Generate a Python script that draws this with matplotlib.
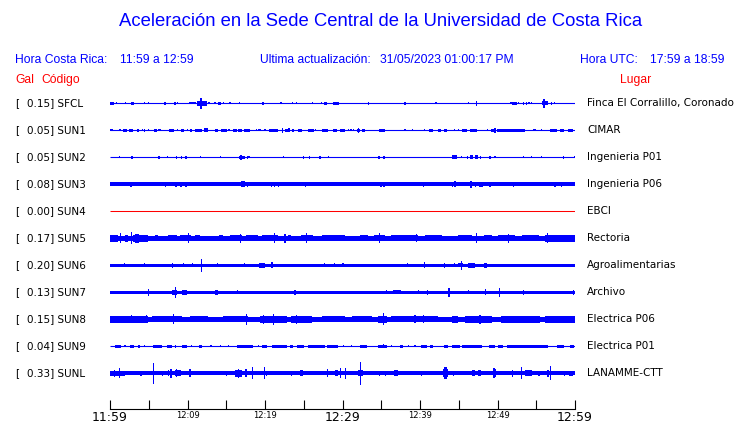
import matplotlib
matplotlib.use('Agg')
import matplotlib.pyplot as plt

# ---------------- data ----------------
codes = ['SFCL', 'SUN1', 'SUN2', 'SUN3', 'SUN4', 'SUN5', 'SUN6', 'SUN7', 'SUN8', 'SUN9', 'SUNL']
gal = ['0.15', '0.05', '0.05', '0.08', '0.00', '0.17', '0.20', '0.13', '0.15', '0.04', '0.33']
places = ['Finca El Corralillo, Coronado', 'CIMAR', 'Ingenieria P01', 'Ingenieria P06', 'EBCI',
          'Rectoria', 'Agroalimentarias', 'Archivo', 'Electrica P06', 'Electrica P01', 'LANAMME-CTT']

# background (noise) half-amplitude of each trace
base_amp = [0.5, 0.5, 0.5, 2.0, 0.5, 2.7, 1.6, 1.6, 2.7, 0.5, 1.9]

# bursts: (start minute, end minute, half-amplitude)
ev_sfcl = [(0.0, 0.56, 1.5), (0.86, 0.86, 1.2), (2.02, 2.02, 1), (2.71, 3.14, 1.5), (4.43, 4.43, 0.8),
           (4.95, 4.95, 1), (7.1, 7.1, 1.5), (8.26, 8.52, 1.5), (8.73, 8.73, 1), (10.2, 11.05, 1.2),
           (11.2, 12.5, 2.5), (11.55, 11.9, 5.3), (12.77, 12.77, 1), (13.55, 13.55, 1), (13.9, 14.3, 1.5),
           (14.6, 14.6, 1), (15.48, 15.48, 1), (16.7, 16.7, 0.8), (19.65, 19.9, 1.5), (22.06, 22.06, 0.8),
           (23.5, 23.5, 0.8), (24.08, 24.08, 1), (26.1, 26.1, 0.8), (27.3, 27.3, 1), (27.65, 27.96, 1.5),
           (28.8, 29.6, 1.5), (33.3, 33.3, 1.5), (38.06, 38.06, 1.5), (42.06, 42.06, 0.8), (46.2, 46.2, 0.8),
           (47.3, 47.3, 2.7), (51.74, 51.74, 1), (51.9, 52.47, 1.5), (52.69, 52.69, 1), (53.3, 53.3, 1.5),
           (53.76, 53.76, 1.5), (54.06, 54.06, 1), (54.4, 54.4, 1), (55.7, 56.56, 2), (55.9, 56.15, 4.7),
           (57.0, 57.0, 1.5), (57.4, 57.4, 1)]
ev_sun1 = [(0.0, 0.43, 1), (1.16, 1.42, 1.2), (1.72, 2.19, 1.5), (2.45, 2.97, 1.5), (3.44, 3.74, 1.5),
           (4.17, 4.17, 1), (4.43, 4.43, 1.5), (4.95, 4.95, 1), (5.72, 6.02, 1.5), (6.24, 6.24, 1),
           (6.45, 6.45, 1), (7.61, 8.26, 1.5), (8.73, 8.73, 1), (9.16, 9.59, 1.5), (10.02, 10.02, 1),
           (10.32, 10.62, 1.5), (10.97, 11.83, 1.5), (12.17, 12.69, 2), (13.55, 13.89, 1.5),
           (14.32, 15.05, 1.5), (15.35, 15.35, 1), (15.83, 16.34, 1.5), (16.56, 17.08, 1.5),
           (17.33, 18.06, 1.5), (18.92, 18.92, 1), (19.23, 19.23, 1), (19.44, 19.44, 1), (20.0, 20.0, 1),
           (20.52, 21.72, 1.5), (22.24, 22.24, 2.5), (22.58, 22.92, 1.5), (23.1, 23.1, 2),
           (23.44, 23.79, 1.5), (24.2, 24.73, 1.5), (25.5, 26.37, 1.5), (26.54, 26.54, 1),
           (27.4, 28.17, 1.5), (28.82, 29.25, 1.5), (29.68, 30.32, 1.5), (30.75, 30.75, 1),
           (31.1, 31.1, 1), (31.4, 31.4, 1), (31.83, 32.26, 1.5), (32.04, 32.04, 2.5), (32.47, 32.9, 1.5),
           (34.71, 35.48, 1.5), (38.06, 38.06, 1), (39.0, 39.0, 1), (40.56, 40.56, 1), (41.2, 41.72, 1.5),
           (42.37, 42.71, 1.5), (43.14, 43.44, 1.5), (44.43, 44.43, 1), (44.95, 44.95, 1),
           (45.38, 46.02, 1.5), (46.45, 47.31, 1.5), (48.73, 48.73, 1), (49.16, 49.59, 1.5),
           (49.68, 49.68, 2.5), (49.9, 53.55, 1.5), (54.63, 54.63, 1), (54.84, 54.84, 1), (55.7, 55.7, 1),
           (56.77, 57.63, 1.5), (58.06, 58.62, 1.5), (59.14, 59.78, 1.5)]
ev_sun2 = [(1.2, 1.2, 1), (2.71, 3.01, 1.5), (6.24, 6.45, 1.5), (7.4, 7.4, 1), (8.52, 8.69, 1.5),
           (9.12, 9.29, 1.5), (9.68, 9.94, 1.5), (11.7, 11.7, 0.8), (14.2, 14.2, 0.8), (16.69, 17.42, 1.5),
           (16.9, 16.9, 2.5), (17.76, 17.76, 1.5), (17.94, 17.94, 1), (22.36, 22.36, 0.8), (24.95, 24.95, 1.5),
           (25.8, 25.8, 1.5), (27.1, 27.1, 1.5), (28.17, 28.17, 1), (34.71, 34.71, 1.5), (35.35, 35.35, 1.5),
           (44.09, 44.73, 1.8), (45.3, 45.3, 1), (46.1, 46.1, 1.5), (46.45, 46.84, 1.8), (47.1, 47.44, 1.8),
           (47.83, 47.83, 1.5), (49.03, 49.03, 1.5), (49.68, 49.68, 0.8), (53.33, 53.33, 0.8),
           (54.4, 54.4, 0.8), (55.7, 55.7, 0.8), (58.4, 58.58, 1.5), (59.9, 59.9, 1)]
ev_sun3 = [(2.71, 2.71, 2.5), (7.2, 7.2, 2.3), (8.52, 8.52, 2.5), (9.16, 9.16, 2.5), (9.8, 9.8, 2.5),
           (16.9, 17.42, 3), (17.76, 17.76, 2.5), (20.86, 20.86, 2.3), (21.2, 21.2, 2.5), (21.72, 21.72, 2.3),
           (25.2, 25.2, 2.5), (34.97, 34.97, 2.5), (35.35, 35.35, 2.5), (40.43, 40.43, 2.5),
           (44.2, 44.2, 2.5), (44.4, 44.6, 3), (46.58, 46.58, 3.5), (47.18, 47.18, 2.5), (47.74, 47.74, 2.5),
           (48.0, 48.0, 2.5), (49.03, 49.03, 2.5), (52.04, 52.04, 2.3), (57.42, 57.42, 2.3), (58.28, 58.28, 2.5)]
ev_sun4 = []
ev_sun5 = [(0.0, 1.08, 3.8), (1.38, 1.38, 5), (1.94, 2.37, 3.3), (2.8, 2.8, 6), (3.0, 4.95, 3.3),
           (3.2, 3.7, 4.3), (5.8, 6.2, 3.2), (7.5, 8.6, 3.1), (9.0, 10.5, 3.2), (10.1, 10.1, 5),
           (11.0, 11.6, 3.2), (14.0, 14.6, 3.2), (15.5, 17.0, 3.1), (16.8, 16.8, 4.5), (17.6, 19.1, 3.1),
           (19.6, 21.7, 3.1), (21.2, 21.2, 5), (22.58, 22.58, 4.5), (23.0, 23.4, 3.2), (24.7, 26.2, 3.2),
           (25.4, 25.4, 5), (27.3, 30.3, 3.0), (32.26, 33.3, 3.0), (34.0, 35.5, 3.2), (34.75, 34.75, 5),
           (36.3, 39.8, 3.1), (39.6, 39.6, 4.2), (40.65, 42.8, 3.0), (44.95, 46.7, 3.2), (47.3, 47.3, 5),
           (48.2, 49.25, 3.2), (50.1, 52.3, 3.2), (51.4, 51.4, 4.5), (53.1, 55.3, 3.0), (56.1, 60.0, 3.6),
           (56.5, 56.5, 5)]
ev_sun6 = [(1.85, 1.85, 2), (3.57, 3.57, 1.5), (4.43, 4.43, 2), (8.1, 8.1, 2.5), (9.46, 9.46, 2),
           (10.6, 10.6, 2), (11.8, 11.8, 6.8), (13.9, 13.9, 2), (14.9, 14.9, 1.5), (16.5, 16.5, 1.5),
           (17.3, 17.3, 2), (19.2, 20.0, 2.5), (20.9, 20.9, 3), (27.65, 27.65, 2), (29.0, 29.0, 2),
           (30.07, 30.07, 2), (33.76, 33.76, 1.5), (35.6, 35.6, 1.5), (36.5, 36.5, 1.5), (38.4, 38.4, 2),
           (39.0, 39.0, 1.5), (40.56, 40.56, 3), (43.2, 43.2, 2.5), (44.4, 44.4, 2), (44.95, 45.6, 2),
           (45.4, 45.4, 4.5), (46.2, 47.1, 2.5), (48.2, 48.6, 2.5), (52.5, 52.5, 1.5)]
ev_sun7 = [(0.0, 1.5, 1.7), (4.95, 4.95, 3.3), (5.72, 5.72, 1.7), (6.8, 6.8, 1.7), (7.96, 8.6, 2.5),
           (8.4, 8.4, 5.5), (9.33, 9.89, 2.5), (11.31, 11.31, 1.7), (13.55, 13.89, 2.5), (16.47, 16.47, 2),
           (19.14, 19.14, 1.7), (20.13, 20.13, 1.7), (21.6, 21.6, 1.7), (23.8, 24.0, 2.5), (25.07, 25.07, 1.7),
           (28.17, 28.17, 1.7), (31.1, 31.1, 1.5), (33.6, 33.6, 1.5), (35.05, 35.05, 1.5), (35.7, 35.7, 2),
           (36.56, 37.55, 2), (39.78, 39.78, 2), (41.0, 41.0, 2.5), (43.74, 43.74, 4.5), (46.2, 46.2, 2),
           (46.8, 46.8, 1.7), (47.4, 47.4, 1.7), (48.4, 48.4, 3), (50.3, 50.3, 4.5), (53.4, 53.4, 2.5),
           (54.84, 54.84, 1.7), (56.35, 56.35, 1.7), (57.7, 57.7, 1.7), (59.8, 59.8, 2.5)]
ev_sun8 = [(0.0, 4.95, 3.2), (2.8, 2.8, 4), (4.7, 4.7, 4), (5.4, 9.25, 3.1), (8.17, 8.17, 5),
           (10.3, 12.7, 3.0), (14.6, 17.85, 3.1), (17.63, 17.63, 5.3), (19.35, 22.8, 3.6), (19.8, 19.8, 4.5),
           (21.07, 21.07, 5.5), (23.4, 26.0, 3.5), (24.1, 24.1, 4.5), (27.3, 30.3, 3.1), (31.2, 33.76, 3.0),
           (34.6, 35.7, 3.6), (35.27, 35.27, 6), (36.3, 42.37, 3.0), (39.35, 39.35, 4), (40.43, 40.43, 4),
           (44.1, 44.95, 3.4), (45.8, 49.25, 3.2), (47.74, 47.74, 4.5), (50.5, 53.1, 3.4), (53.2, 55.5, 3.6),
           (56.1, 60.0, 3.2)]
ev_sun9 = [(0.65, 1.42, 1.5), (1.94, 1.94, 1), (2.58, 3.14, 1.5), (3.57, 3.87, 1.5), (4.43, 4.43, 1),
           (5.6, 6.67, 1.5), (7.3, 7.96, 1.5), (8.47, 8.47, 1.5), (9.25, 9.9, 1.5), (10.54, 10.54, 1),
           (11.53, 11.91, 1.5), (13.03, 13.03, 1), (14.2, 14.2, 1), (15.27, 15.27, 1), (16.34, 18.5, 1.5),
           (19.14, 19.14, 1), (19.66, 20.2, 1.5), (20.86, 22.8, 1.5), (23.23, 23.66, 1.5), (24.08, 25.07, 1.5),
           (25.5, 27.74, 1.5), (27.96, 29.46, 1.5), (30.1, 30.1, 1), (31.18, 31.18, 1), (32.26, 33.12, 1.5),
           (34.6, 35.7, 1.5), (35.27, 35.27, 2), (36.3, 36.3, 1), (37.4, 37.85, 1.5), (38.5, 38.5, 1),
           (39.36, 39.36, 1), (40.13, 40.86, 1.5), (41.3, 41.72, 1.5), (43.14, 43.66, 1.5), (44.1, 45.16, 1.5),
           (45.38, 47.96, 1.5), (48.9, 49.68, 1.5), (50.1, 50.75, 1.5), (51.2, 56.56, 1.5),
           (57.63, 58.62, 1.5), (59.35, 59.9, 1.5)]
ev_sunl = [(0.0, 1.94, 2.3), (0.56, 0.56, 3.5), (1.2, 1.2, 5), (4.0, 4.0, 2.5), (5.59, 5.59, 10.3),
           (6.75, 6.75, 2.5), (7.6, 7.6, 3), (7.74, 7.96, 4.5), (8.4, 9.16, 3), (8.6, 8.6, 4),
           (10.2, 10.45, 4), (13.98, 13.98, 2), (15.05, 15.05, 2.5), (16.13, 16.99, 3.5), (16.56, 16.56, 4.5),
           (17.42, 17.63, 4), (18.37, 18.37, 6), (19.9, 19.9, 6), (20.2, 20.2, 2.5), (23.44, 23.44, 2.5),
           (24.5, 24.86, 3), (28.1, 28.1, 4), (29.03, 29.46, 3), (29.8, 29.8, 5), (30.4, 30.4, 5.5),
           (32.05, 32.7, 3), (32.35, 32.35, 11.8), (34.8, 34.8, 2.5), (35.6, 35.6, 2.5), (36.7, 37.1, 3),
           (40.2, 40.2, 2.5), (43.0, 43.6, 4), (43.14, 43.44, 6), (44.3, 44.3, 2.5), (46.67, 47.1, 3),
           (47.5, 47.87, 3), (49.46, 49.76, 4), (49.55, 49.55, 5), (51.83, 52.04, 3.5), (53.12, 53.12, 6),
           (53.6, 54.4, 3), (55.35, 55.35, 2.5), (56.35, 56.65, 3.5), (56.86, 56.86, 7), (58.62, 58.62, 2.5),
           (59.2, 59.8, 2.5)]
events = [ev_sfcl, ev_sun1, ev_sun2, ev_sun3, ev_sun4, ev_sun5, ev_sun6, ev_sun7, ev_sun8, ev_sun9, ev_sunl]

tick_minutes = [0, 5, 10, 15, 20, 25, 30, 35, 40, 45, 50, 55, 60]
tick_labels = ['11:59', '', '12:09', '', '12:19', '', '12:29', '', '12:39', '', '12:49', '', '12:59']
big_labels = ['11:59', '12:29', '12:59']

title = 'Aceleración en la Sede Central de la Universidad de Costa Rica'

# ---------------- layout / style ----------------
W, H, DPI = 740, 423, 100
BLUE = '#0000ff'
RED = '#ff0000'
ROW_GAP = 27.0          # px between traces (y data units = px)
PX_MIN = 60.0 / 465.0   # minutes per pixel
HEAD = 'Liberation Sans'
BODY = 'DejaVu Sans'

fig = plt.figure(figsize=(W / DPI, H / DPI), dpi=DPI)
ax_left, ax_right, ax_top, ax_bot = 110, 575, 90, 409
ax = fig.add_axes([ax_left / W, (H - ax_bot) / H, (ax_right - ax_left) / W, (ax_bot - ax_top) / H])
ax.set_xlim(0, 60)
ax.set_ylim(-(ROW_GAP * (len(codes) - 1) + 35.7), 13.3)

for i, code in enumerate(codes):
    y0 = -ROW_GAP * i
    b = base_amp[i]
    if code == 'SUN4':
        ax.hlines(y0, 0, 60, color=RED, lw=0.75)
    elif b <= 0.5:
        ax.hlines(y0, 0, 60, color=BLUE, lw=0.8)
    else:
        ax.fill_between([0, 60], [y0 - b] * 2, [y0 + b] * 2, color=BLUE, lw=0, antialiased=False)
    for (s, e, h) in events[i]:
        w = max(e - s, 1.1 * PX_MIN)
        ax.bar((s + e) / 2, 2 * h, width=w, bottom=y0 - h, color=BLUE, lw=0, antialiased=False)

    ax.annotate('[', xy=(15, y0), xycoords=('figure pixels', 'data'), va='center', ha='left',
                fontsize=7.5, family=BODY, annotation_clip=False)
    ax.annotate(f'{gal[i]}] {code}', xy=(27, y0), xycoords=('figure pixels', 'data'), va='center',
                ha='left', fontsize=7.5, family=BODY, annotation_clip=False)
    ax.annotate(places[i], xy=(587, y0), xycoords=('figure pixels', 'data'), va='center', ha='left',
                fontsize=7.5, family=BODY, annotation_clip=False)

for sp in ['top', 'right', 'left']:
    ax.spines[sp].set_visible(False)
ax.spines['bottom'].set_linewidth(0.8)
ax.set_yticks([])
ax.set_xticks(tick_minutes)
ax.set_xticklabels(tick_labels, family=BODY)
ax.tick_params(axis='x', direction='in', length=6.5, width=0.8, pad=1.5)
for lab in ax.get_xticklabels():
    if lab.get_text() in big_labels:
        lab.set_fontsize(9)
    else:
        lab.set_fontsize(6)

# ---------------- header texts ----------------
def ftext(x, y, s, color, size, ha='left'):
    fig.text(x / W, 1 - y / H, s, color=color, fontsize=size, family=HEAD, ha=ha, va='center')

ftext(381, 22, title, BLUE, 13.3, ha='center')
ftext(15, 60, 'Hora Costa Rica:', BLUE, 8.7)
ftext(120, 60, '11:59 a 12:59', BLUE, 8.7)
ftext(260, 60, 'Ultima actualización:', BLUE, 8.7)
ftext(380, 60, '31/05/2023 01:00:17 PM', BLUE, 8.7)
ftext(580, 60, 'Hora UTC:', BLUE, 8.7)
ftext(650, 60, '17:59 a 18:59', BLUE, 8.7)
ftext(15, 80, 'Gal', RED, 8.7)
ftext(41, 80, 'Código', RED, 8.7)
ftext(620, 80, 'Lugar', RED, 8.7)

fig.savefig('out.png', dpi=DPI)
